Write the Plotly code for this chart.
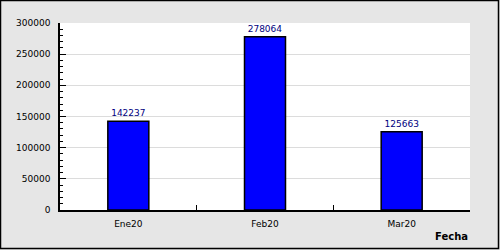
import plotly.graph_objects as go

categories = ["Ene20", "Feb20", "Mar20"]
values = [142237, 278064, 125663]
y_ticks = [0, 50000, 100000, 150000, 200000, 250000, 300000]
x_title = "Fecha"

W, H = 500, 250
ML, MR, MT, MB = 60, 30, 23, 40
pw = W - ML - MR
ph = H - MT - MB

fig = go.Figure()
fig.add_trace(go.Bar(
    x=categories, y=values, width=0.3,
    marker=dict(color="#0000ff", line=dict(color="#000000", width=1.5)),
    text=[str(v) for v in values], textposition="outside",
    textfont=dict(family="DejaVu Sans", size=9, color="#000080"),
    cliponaxis=False,
))

fig.update_layout(
    width=W, height=H,
    margin=dict(l=ML, r=MR, t=MT, b=MB, pad=0),
    paper_bgcolor="#e6e6e6", plot_bgcolor="#ffffff",
    showlegend=False,
    font=dict(family="DejaVu Sans", size=9, color="#000000"),
    bargap=0.7,
)
fig.update_xaxes(
    type="category", showline=True, linecolor="#000000", linewidth=1.5,
    ticks="inside", tickson="boundaries", ticklen=5, tickcolor="#000000",
    showgrid=False, zeroline=False, ticklabelstandoff=4,
    tickfont=dict(family="DejaVu Sans", size=9, color="#000000"),
)
fig.update_yaxes(
    range=[0, 300000], tickvals=y_ticks, ticktext=[str(v) for v in y_ticks],
    showline=True, linecolor="#000000", linewidth=1.5,
    ticks="inside", ticklen=6, tickcolor="#000000",
    showgrid=True, gridcolor="#dcdcdc", gridwidth=1, zeroline=False,
    minor=dict(dtick=10000, ticks="inside", ticklen=3, tickcolor="#000000", showgrid=False),
    ticklabelstandoff=6,
    tickfont=dict(family="DejaVu Sans", size=9, color="#000000"),
)

fig.add_annotation(
    text="<b>" + x_title + "</b>", xref="paper", yref="paper",
    x=1, y=0, xanchor="right", yanchor="middle", yshift=-26, showarrow=False,
    font=dict(family="DejaVu Sans", size=10, color="#000000"),
)

# outer frame
fig.add_shape(
    type="rect", xref="paper", yref="paper",
    x0=(-ML + 0.5) / pw, x1=(pw + MR - 1.5) / pw,
    y0=(-MB + 1.5) / ph, y1=(ph + MT - 0.5) / ph,
    line=dict(color="#000000", width=1.5), fillcolor="rgba(0,0,0,0)", layer="above",
)

fig.write_html("out.html")
